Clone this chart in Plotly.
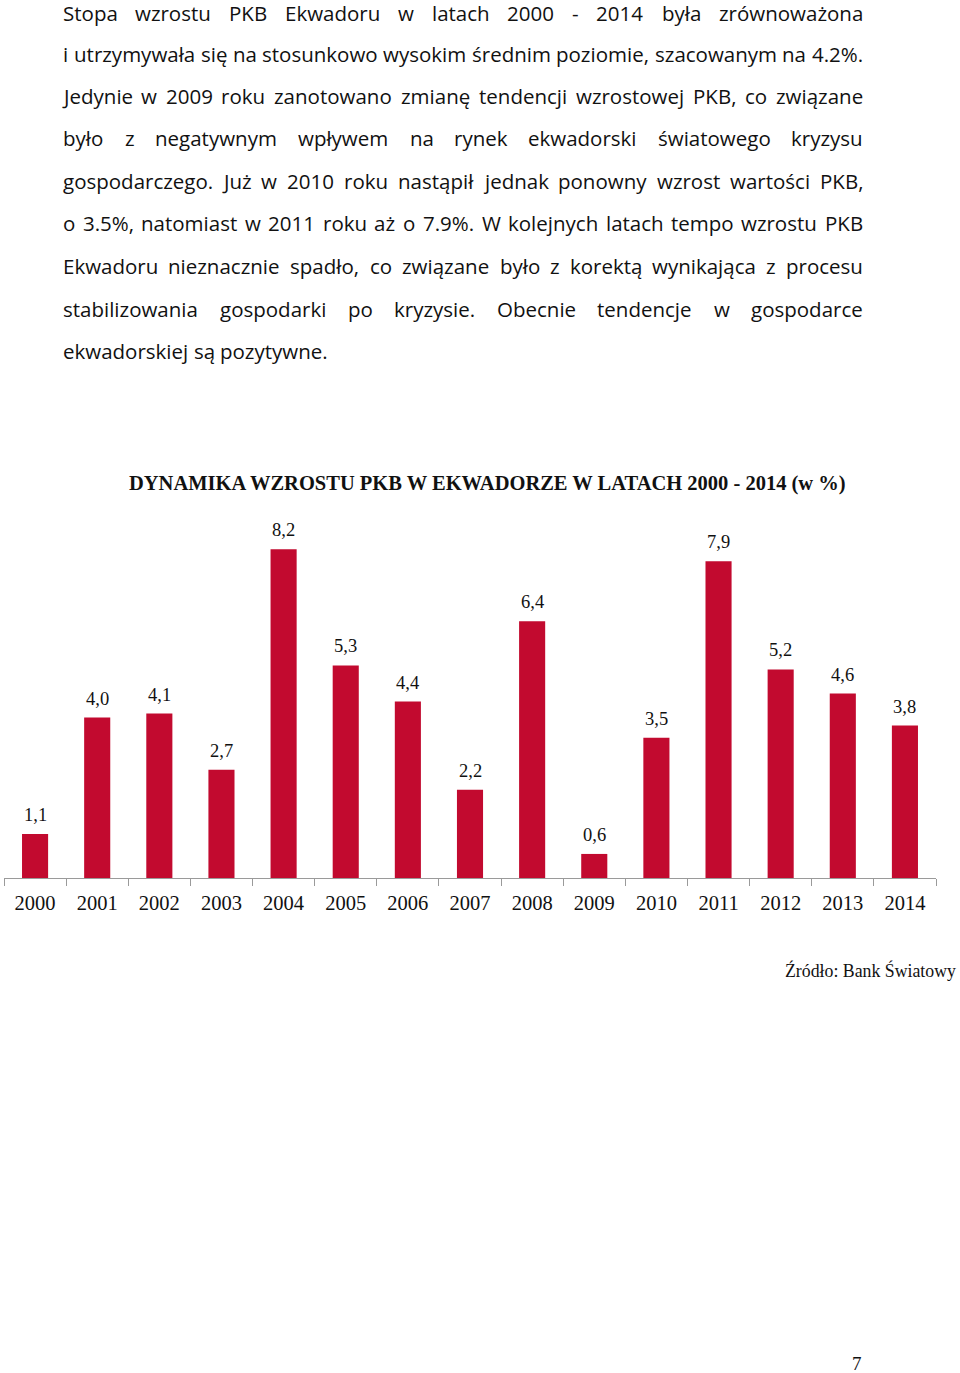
import plotly.graph_objects as go

years = ["2000", "2001", "2002", "2003", "2004", "2005", "2006", "2007",
         "2008", "2009", "2010", "2011", "2012", "2013", "2014"]
growth = [1.1, 4.0, 4.1, 2.7, 8.2, 5.3, 4.4, 2.2, 6.4, 0.6, 3.5, 7.9, 5.2, 4.6, 3.8]
value_labels = ["1,1", "4,0", "4,1", "2,7", "8,2", "5,3", "4,4", "2,2",
                "6,4", "0,6", "3,5", "7,9", "5,2", "4,6", "3,8"]

chart_title = "DYNAMIKA WZROSTU PKB W EKWADORZE W LATACH 2000 - 2014 (w %)"
source_text = "Źródło: Bank Światowy"
page_number = "7"

paragraph_lines = [
    "Stopa wzrostu PKB Ekwadoru w latach 2000 - 2014 była zrównoważona",
    "i utrzymywała się na stosunkowo wysokim średnim poziomie, szacowanym na 4.2%.",
    "Jedynie w 2009 roku zanotowano zmianę tendencji wzrostowej PKB, co związane",
    "było z negatywnym wpływem na rynek ekwadorski światowego kryzysu",
    "gospodarczego. Już w 2010 roku nastąpił jednak ponowny wzrost wartości PKB,",
    "o 3.5%, natomiast w 2011 roku aż o 7.9%. W kolejnych latach tempo wzrostu PKB",
    "Ekwadoru nieznacznie spadło, co związane było z korektą wynikająca z procesu",
    "stabilizowania gospodarki po kryzysie. Obecnie tendencje w gospodarce",
    "ekwadorskiej są pozytywne.",
]

W, H = 960, 1373
BAR_COLOR = "#C20A2F"

# approximate Open Sans advance widths (em)
lw = dict(a=.556, b=.613, c=.48, d=.613, e=.561, f=.336, g=.547, h=.613, i=.258,
          j=.258, k=.521, l=.258, m=.93, n=.613, o=.601, p=.613, q=.613, r=.408,
          s=.479, t=.352, u=.613, v=.498, w=.774, x=.517, y=.5, z=.468)
uw = dict(A=.633, B=.647, C=.631, D=.729, E=.556, F=.519, G=.726, H=.738, I=.279,
          J=.268, K=.614, L=.519, M=.907, N=.764, O=.779, P=.602, R=.618, S=.549,
          T=.553, U=.729, W=.93, Z=.56)
other = {" ": .26, ".": .267, ",": .245, "%": .823, "-": .322, "ł": .28,
         "ą": .556, "ę": .561, "ś": .479, "ż": .468, "ó": .601, "ć": .48, "ń": .613}


def cw(ch):
    if ch in lw:
        return lw[ch]
    if ch in uw:
        return uw[ch]
    if ch.isdigit():
        return .571
    return other.get(ch, .6)


def tw(s):
    return sum(cw(c) for c in s)


LEFT, RIGHT = 63, 863
ref = paragraph_lines[1]
fs = (RIGHT - LEFT) / tw(ref)
fs = min(fs, 20.5)
line_y = [13, 54, 96, 138, 181, 223, 266, 309, 351]

annotations = []
for li, line in enumerate(paragraph_lines):
    words = line.split(" ")
    widths = [tw(wd) * fs for wd in words]
    justified = li != len(paragraph_lines) - 1
    if justified and len(words) > 1:
        gap = (RIGHT - LEFT - sum(widths)) / (len(words) - 1)
    else:
        gap = cw(" ") * fs
    x = LEFT
    for wd, wdt in zip(words, widths):
        annotations.append(dict(
            text=wd, x=(x + wdt / 2) / W, y=1 - line_y[li] / H,
            xref="paper", yref="paper", xanchor="center", yanchor="middle",
            showarrow=False, borderpad=0,
            font=dict(family="Open Sans", size=fs, color="#111111")))
        x += wdt + gap

# chart title, source, page number
annotations.append(dict(text="<b>" + chart_title + "</b>", x=487 / W, y=1 - 484 / H,
                        xref="paper", yref="paper", xanchor="center", yanchor="middle",
                        showarrow=False,
                        font=dict(family="Liberation Serif", size=20.5, color="#111111")))
annotations.append(dict(text=source_text, x=958 / W, y=1 - 970 / H,
                        xref="paper", yref="paper", xanchor="right", yanchor="middle",
                        showarrow=False,
                        font=dict(family="Liberation Serif", size=17.8, color="#111111")))
annotations.append(dict(text=page_number, x=857 / W, y=1 - 1363 / H,
                        xref="paper", yref="paper", xanchor="center", yanchor="middle",
                        showarrow=False,
                        font=dict(family="Liberation Serif", size=19, color="#111111")))

# value labels (category index positions)
for i, (v, lab) in enumerate(zip(growth, value_labels)):
    annotations.append(dict(text=lab, x=i, y=v, xref="x", yref="y",
                            xanchor="center", yanchor="bottom", yshift=7,
                            showarrow=False,
                            font=dict(family="Liberation Serif", size=18.5, color="#111111")))

fig = go.Figure(go.Bar(x=years, y=growth, marker=dict(color=BAR_COLOR, line=dict(width=0)),
                       hoverinfo="skip"))

y_bottom = 878
px_per_unit = 40.1
y_max = 9.0
y_top = y_bottom - y_max * px_per_unit

fig.update_layout(
    width=W, height=H, margin=dict(l=0, r=0, t=0, b=0),
    paper_bgcolor="white", plot_bgcolor="white", showlegend=False,
    bargap=0.58, annotations=annotations,
    xaxis=dict(domain=[4 / W, 936 / W], type="category", range=[-0.5, len(years) - 0.5],
               showgrid=False, showline=True, linecolor="#9a9a9a", linewidth=1.3,
               ticks="outside", tickson="boundaries", ticklen=7, tickcolor="#9a9a9a",
               tickwidth=1.3, tickangle=0, ticklabelstandoff=6,
               tickfont=dict(family="Liberation Serif", size=20.5, color="#111111"),
               zeroline=False, fixedrange=True),
    yaxis=dict(domain=[(H - y_bottom) / H, (H - y_top) / H], range=[0, y_max],
               visible=False, showgrid=False, zeroline=False, fixedrange=True),
)

fig.write_html("out.html", config={"displayModeBar": False},
               post_script="document.body.style.margin='0';document.body.style.padding='0';")
